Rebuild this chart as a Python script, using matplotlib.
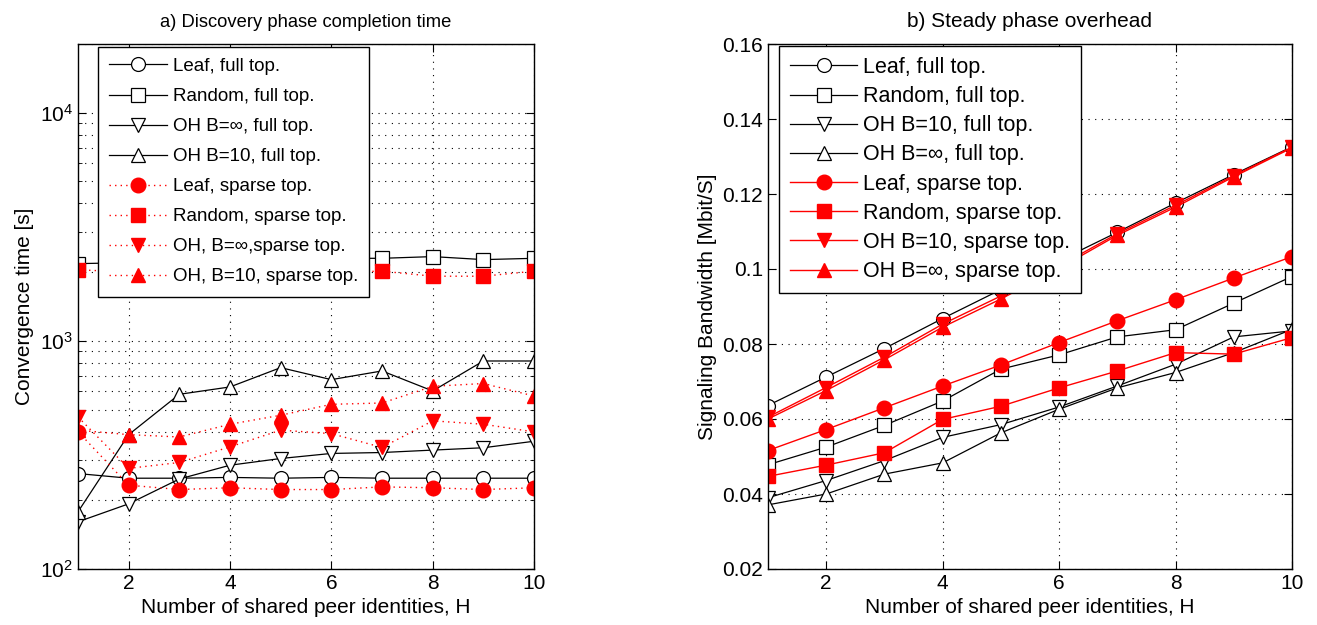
import numpy as np
import matplotlib
matplotlib.use("Agg")
import matplotlib.pyplot as plt
from matplotlib.ticker import FixedLocator, FormatStrFormatter, LogLocator, NullFormatter

plt.rcParams['font.family'] = ['Liberation Sans', 'DejaVu Sans']
plt.rcParams['mathtext.default'] = 'regular'

H = np.arange(1, 11)

# a) discovery phase completion time [s]
conv_leaf_full = [262, 250, 250, 252, 250, 252, 250, 250, 250, 250]
conv_rand_full = [2180, 2200, 2250, 2250, 2300, 2300, 2300, 2340, 2270, 2300]
conv_ohinf_full = [161, 193, 248, 285, 305, 321, 324, 332, 340, 363]
conv_oh10_full = [178, 388, 583, 628, 763, 676, 738, 603, 816, 816]
conv_leaf_sparse = [400, 233, 223, 227, 223, 223, 229, 227, 223, 227]
conv_rand_sparse = [2050, 2000, 2000, 2000, 2000, 2000, 2020, 1920, 1920, 2020]
conv_ohinf_sparse = [464, 276, 293, 343, 406, 392, 341, 446, 431, 399]
conv_oh10_sparse = [406, 388, 379, 431, 472, 527, 534, 632, 650, 573]

# b) steady phase overhead [Mbit/s]
bw_leaf_full = [0.0636, 0.0712, 0.0788, 0.0868, 0.0945, 0.1022, 0.1098, 0.1176, 0.1252, 0.1326]
bw_rand_full = [0.0478, 0.0525, 0.0583, 0.0648, 0.0733, 0.0771, 0.0819, 0.0838, 0.0909, 0.0980]
bw_oh10_full = [0.0390, 0.0436, 0.0489, 0.0551, 0.0585, 0.0632, 0.0688, 0.0746, 0.0819, 0.0835]
bw_ohinf_full = [0.0371, 0.0400, 0.0453, 0.0483, 0.0563, 0.0626, 0.0683, 0.0724, 0.0777, 0.0839]
bw_leaf_sparse = [0.0516, 0.0572, 0.0630, 0.0688, 0.0744, 0.0804, 0.0862, 0.0918, 0.0976, 0.1033]
bw_rand_sparse = [0.0447, 0.0477, 0.0510, 0.0599, 0.0634, 0.0683, 0.0728, 0.0777, 0.0773, 0.0817]
bw_oh10_sparse = [0.0605, 0.0684, 0.0765, 0.0853, 0.0928, 0.1008, 0.1094, 0.1170, 0.1249, 0.1325]
bw_ohinf_sparse = [0.0600, 0.0676, 0.0758, 0.0845, 0.0920, 0.1002, 0.1090, 0.1165, 0.1246, 0.1323]

labels_a = ["Leaf, full top.", "Random, full top.", "OH B=\u221e, full top.", "OH B=10, full top.",
            "Leaf, sparse top.", "Random, sparse top.", "OH, B=\u221e,sparse top.", "OH, B=10, sparse top."]
labels_b = ["Leaf, full top.", "Random, full top.", "OH B=10, full top.", "OH B=\u221e, full top.",
            "Leaf, sparse top.", "Random, sparse top.", "OH B=10, sparse top.", "OH B=\u221e, sparse top."]

fig = plt.figure(figsize=(13.17, 6.25), dpi=100)
ax1 = fig.add_axes([0.0592, 0.0896, 0.3463, 0.8400])
ax2 = fig.add_axes([0.5831, 0.0896, 0.3979, 0.8400])

open_kw = dict(color='k', lw=0.9, mfc='white', mec='k', mew=0.9, ms=10)


def style_axes(ax):
    ax.tick_params(which='both', direction='in', top=True, right=True, labelsize=15)
    ax.tick_params(which='major', length=6)
    ax.tick_params(which='minor', length=3)
    for s in ax.spines.values():
        s.set_linewidth(1.0)
    ax.set_xlim(1, 10)
    ax.xaxis.set_major_locator(FixedLocator([2, 4, 6, 8, 10]))
    ax.set_xlabel("Number of shared peer identities, H", fontsize=15, labelpad=4)


# left panel
ax1.set_yscale('log')
ax1.plot(H, conv_leaf_full, marker='o', label=labels_a[0], **open_kw)
ax1.plot(H, conv_rand_full, marker='s', label=labels_a[1], **open_kw)
ax1.plot(H, conv_ohinf_full, marker='v', label=labels_a[2], **open_kw)
ax1.plot(H, conv_oh10_full, marker='^', label=labels_a[3], **open_kw)
red_dot = dict(color='red', ls=(0, (1, 3)), lw=1.0, mfc='red', mec='red', ms=10.5)
ax1.plot(H, conv_leaf_sparse, marker='o', label=labels_a[4], **red_dot)
ax1.plot(H, conv_rand_sparse, marker='s', label=labels_a[5], **red_dot)
ax1.plot(H, conv_ohinf_sparse, marker='v', label=labels_a[6], **red_dot)
ax1.plot(H, conv_oh10_sparse, marker='^', label=labels_a[7], **red_dot)
ax1.set_ylim(100, 2e4)
ax1.yaxis.set_major_locator(LogLocator(base=10, numticks=10))
ax1.yaxis.set_minor_locator(LogLocator(base=10, subs=np.arange(2, 10), numticks=20))
ax1.yaxis.set_minor_formatter(NullFormatter())
style_axes(ax1)
ax1.grid(True, which='major', color='k', ls=(0, (1, 5)), lw=0.8)
ax1.grid(True, which='minor', axis='y', color='k', ls=(0, (1, 5)), lw=0.8)
ax1.set_ylabel("Convergence time [s]", fontsize=15)
ax1.set_title("a) Discovery phase completion time", fontsize=13.2, pad=12)
ax1.legend(loc='upper left', bbox_to_anchor=(0.043, 0.995), borderaxespad=0, fontsize=13.5,
           handlelength=3.1, handletextpad=0.3, labelspacing=0.69, borderpad=0.6,
           fancybox=False, edgecolor='k', framealpha=1)

# right panel
ax2.plot(H, bw_leaf_full, marker='o', label=labels_b[0], **open_kw)
ax2.plot(H, bw_rand_full, marker='s', label=labels_b[1], **open_kw)
ax2.plot(H, bw_oh10_full, marker='v', label=labels_b[2], **open_kw)
ax2.plot(H, bw_ohinf_full, marker='^', label=labels_b[3], **open_kw)
red_solid = dict(color='red', lw=1.0, mfc='red', mec='red', ms=10.5)
ax2.plot(H, bw_leaf_sparse, marker='o', label=labels_b[4], **red_solid)
ax2.plot(H, bw_rand_sparse, marker='s', label=labels_b[5], **red_solid)
ax2.plot(H, bw_oh10_sparse, marker='v', label=labels_b[6], **red_solid)
ax2.plot(H, bw_ohinf_sparse, marker='^', label=labels_b[7], **red_solid)
ax2.set_ylim(0.02, 0.16)
ax2.yaxis.set_major_locator(FixedLocator(np.arange(0.02, 0.161, 0.02)))
ax2.yaxis.set_major_formatter(FormatStrFormatter('%g'))
style_axes(ax2)
ax2.grid(True, which='major', color='k', ls=(0, (1, 5)), lw=0.8)
ax2.set_ylabel("Signaling Bandwidth [Mbit/S]", fontsize=15)
ax2.set_title("b) Steady phase overhead", fontsize=15, pad=12)
ax2.legend(loc='upper left', bbox_to_anchor=(0.022, 0.996), borderaxespad=0, fontsize=15.5,
           handlelength=3.1, handletextpad=0.3, labelspacing=0.38, borderpad=0.5,
           fancybox=False, edgecolor='k', framealpha=1)

fig.savefig("out.png", dpi=100)
